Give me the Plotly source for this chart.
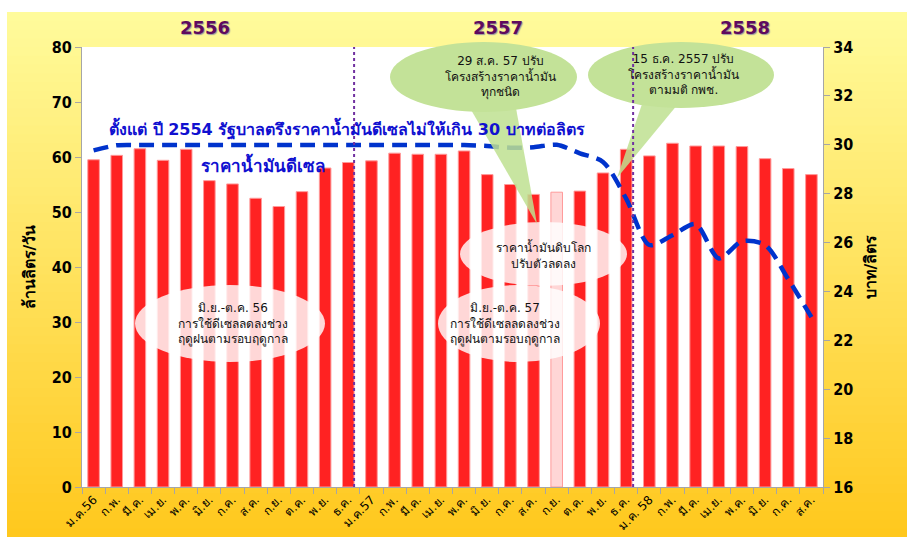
import plotly.graph_objects as go

# Monthly diesel use (million litres/day) and diesel retail price (baht/litre)
months = [
    "ม.ค.56", "ก.พ.", "มี.ค.", "เม.ย.", "พ.ค.", "มิ.ย.", "ก.ค.", "ส.ค.", "ก.ย.", "ต.ค.", "พ.ย.", "ธ.ค.",
    "ม.ค.57", "ก.พ.", "มี.ค.", "เม.ย.", "พ.ค.", "มิ.ย.", "ก.ค.", "ส.ค.", "ก.ย.", "ต.ค.", "พ.ย.", "ธ.ค.",
    "ม.ค. 58", "ก.พ.", "มี.ค.", "เม.ย.", "พ.ค.", "มิ.ย.", "ก.ค.", "ส.ค.",
]
diesel_use = [
    59.5, 60.3, 61.5, 59.4, 61.4, 55.7, 55.1, 52.5, 51.0, 53.7, 58.0, 59.0,
    59.3, 60.7, 60.5, 60.5, 61.1, 56.8, 55.0, 53.2, 53.6, 53.8, 57.1, 61.4,
    60.2, 62.5, 62.0, 62.0, 61.9, 59.7, 57.9, 56.8,
]
diesel_price = [
    29.77, 29.98, 29.99, 29.99, 29.99, 29.99, 29.99, 29.99, 29.99, 29.99, 29.99, 29.99,
    29.99, 29.99, 29.99, 29.99, 29.99, 29.95, 29.88, 29.90, 30.00, 29.65, 29.30, 27.80,
    25.90, 26.30, 26.75, 25.35, 26.05, 25.90, 24.50, 22.95,
]
years = ["2556", "2557", "2558"]

idx = list(range(len(months)))

# plot area in pixels (for placing the decorations)
L, R, T, B = 82, 823, 47, 487
W, H = 907, 537


def fx(p):
    return (p - L) / (R - L)


def fy(p):
    return (B - p) / (B - T)


bar_colors = ["#FF2222"] * len(months)
bar_colors[20] = "#FFD6D6"  # ก.ย.57 is drawn faded in the source

fig = go.Figure()
fig.add_trace(go.Bar(
    x=idx, y=diesel_use, width=0.5, name="ปริมาณการใช้",
    marker=dict(color=bar_colors, line=dict(color="#FF9A9A", width=1)),
))
fig.add_trace(go.Scatter(
    x=idx, y=diesel_price, yaxis="y2", mode="lines", name="ราคาน้ำมันดีเซล",
    line=dict(color="#0033CC", width=4.5, dash="15px,8px", shape="spline", smoothing=0.8),
))

shapes = []
# yellow gradient background
n = 60
top_c, bot_c = (255, 251, 155), (255, 200, 30)
y_top, y_bot = 12, 537
for i in range(n):
    t = i / (n - 1)
    c = tuple(round(top_c[k] + (bot_c[k] - top_c[k]) * t) for k in range(3))
    ya = y_top + (y_bot - y_top) * i / n
    yb = y_top + (y_bot - y_top) * (i + 1) / n + 1
    shapes.append(dict(type="rect", xref="paper", yref="paper", layer="below",
                       x0=fx(7), x1=fx(W), y0=fy(yb), y1=fy(ya),
                       fillcolor="rgb(%d,%d,%d)" % c, line=dict(width=0)))
# white plot area on top of the gradient
shapes.append(dict(type="rect", xref="paper", yref="paper", layer="below",
                   x0=0, x1=1, y0=0, y1=1, fillcolor="white", line=dict(width=0)))

# pale ellipses over the bars
pale = "rgba(255,255,255,0.82)"
for (x0, x1, y0, y1) in [(135, 325, 285, 362), (438, 600, 285, 362), (460, 627, 222, 286)]:
    shapes.append(dict(type="circle", xref="paper", yref="paper", layer="above",
                       x0=fx(x0), x1=fx(x1), y0=fy(y1), y1=fy(y0),
                       fillcolor=pale, line=dict(width=0)))

# green callouts
green = "rgba(190,224,145,0.85)"
shapes.append(dict(type="path", xref="paper", yref="paper", layer="above",
                   path="M %f,%f L %f,%f L %f,%f Z" % (fx(470), fy(108), fx(516), fy(108), fx(537), fy(224)),
                   fillcolor=green, line=dict(width=0)))
shapes.append(dict(type="path", xref="paper", yref="paper", layer="above",
                   path="M %f,%f L %f,%f L %f,%f Z" % (fx(642), fy(104), fx(678), fy(104), fx(617), fy(178)),
                   fillcolor=green, line=dict(width=0)))
for (x0, x1, y0, y1) in [(390, 577, 42, 112), (588, 774, 42, 108)]:
    shapes.append(dict(type="circle", xref="paper", yref="paper", layer="above",
                       x0=fx(x0), x1=fx(x1), y0=fy(y1), y1=fy(y0),
                       fillcolor="rgb(195,226,152)", line=dict(width=0)))

# year separators
for xs in [11.25, 23.3]:
    shapes.append(dict(type="line", xref="x", yref="paper", layer="above",
                       x0=xs, x1=xs, y0=0, y1=1,
                       line=dict(color="#7030A0", width=2, dash="dot")))


def note(text, xp, yp, font):
    return dict(text=text, x=fx(xp), y=fy(yp), xref="paper", yref="paper",
                xanchor="center", yanchor="middle", showarrow=False, font=font, align="center")


ann = []
year_font = dict(size=18, color="#5E0A5E", family="DejaVu Sans", shadow="1px 1px 1px #9a9a9a")
for name, xp in zip(years, [205, 498, 745]):
    ann.append(note("<b>%s</b>" % name, xp, 28, year_font))

blue_font = dict(size=17, color="#1010D0", family="Tahoma, DejaVu Sans, sans-serif")
ann.append(note("<b>ตั้งแต่ ปี 2554 รัฐบาลตรึงราคาน้ำมันดีเซลไม่ให้เกิน 30 บาทต่อลิตร</b>",
                347, 128, dict(blue_font, size=16)))
ann.append(note("<b>ราคาน้ำมันดีเซล</b>", 263, 164, blue_font))

note_font = dict(size=12, color="#111111", family="Tahoma, DejaVu Sans, sans-serif")
notes = [
    ("29 ส.ค. 57 ปรับ<br>โครงสร้างราคาน้ำมัน<br>ทุกชนิด", 500, 77),
    ("15 ธ.ค. 2557 ปรับ<br>โครงสร้างราคาน้ำมัน<br>ตามมติ กพช.", 683, 75),
    ("ราคาน้ำมันดิบโลก<br>ปรับตัวลดลง", 543, 255),
    ("มิ.ย.-ต.ค. 57<br>การใช้ดีเซลลดลงช่วง<br>ฤดูฝนตามรอบฤดูกาล", 505, 324),
    ("มิ.ย.-ต.ค. 56<br>การใช้ดีเซลลดลงช่วง<br>ฤดูฝนตามรอบฤดูกาล", 233, 324),
]
for text, xp, yp in notes:
    ann.append(note(text, xp, yp, note_font))

axis_font = dict(size=16, color="black", family="DejaVu Sans Condensed, DejaVu Sans", weight="bold")
title_font = dict(size=16, color="black", family="Tahoma, DejaVu Sans", weight="bold")

fig.update_layout(
    width=W, height=H,
    margin=dict(l=L, r=W - R, t=T, b=H - B),
    paper_bgcolor="white", plot_bgcolor="white",
    showlegend=False, bargap=0.5,
    shapes=shapes, annotations=ann,
    xaxis=dict(
        range=[-0.5, len(months) - 0.5], tickmode="array", tickvals=idx, ticktext=months,
        tickangle=-45, ticks="", showgrid=False, showline=True, linecolor="#A6A6A6",
        automargin=False,
        tickfont=dict(size=12, color="black", family="Tahoma, DejaVu Sans, sans-serif"),
        minor=dict(ticks="outside", tick0=-0.5, dtick=1, ticklen=6, tickcolor="#A6A6A6", showgrid=False),
    ),
    yaxis=dict(
        range=[0, 80], dtick=10, showgrid=False, showline=True, linecolor="#A6A6A6",
        ticks="outside", ticklen=6, tickcolor="#A6A6A6", tickfont=axis_font, zeroline=False,
        automargin=False,
        title=dict(text="ล้านลิตร/วัน", standoff=12, font=title_font),
    ),
    yaxis2=dict(
        range=[16, 34], dtick=2, overlaying="y", side="right", showgrid=False, showline=True,
        linecolor="#A6A6A6", ticks="outside", ticklen=6, tickcolor="#A6A6A6", tickfont=axis_font,
        zeroline=False, automargin=False,
        title=dict(text="บาท/ลิตร", standoff=12, font=title_font),
    ),
)

# the page's default body margin would push the figure 8px off the window
fig.write_html("out.html", config={"displayModeBar": False},
               post_script="document.body.style.margin='0';")
